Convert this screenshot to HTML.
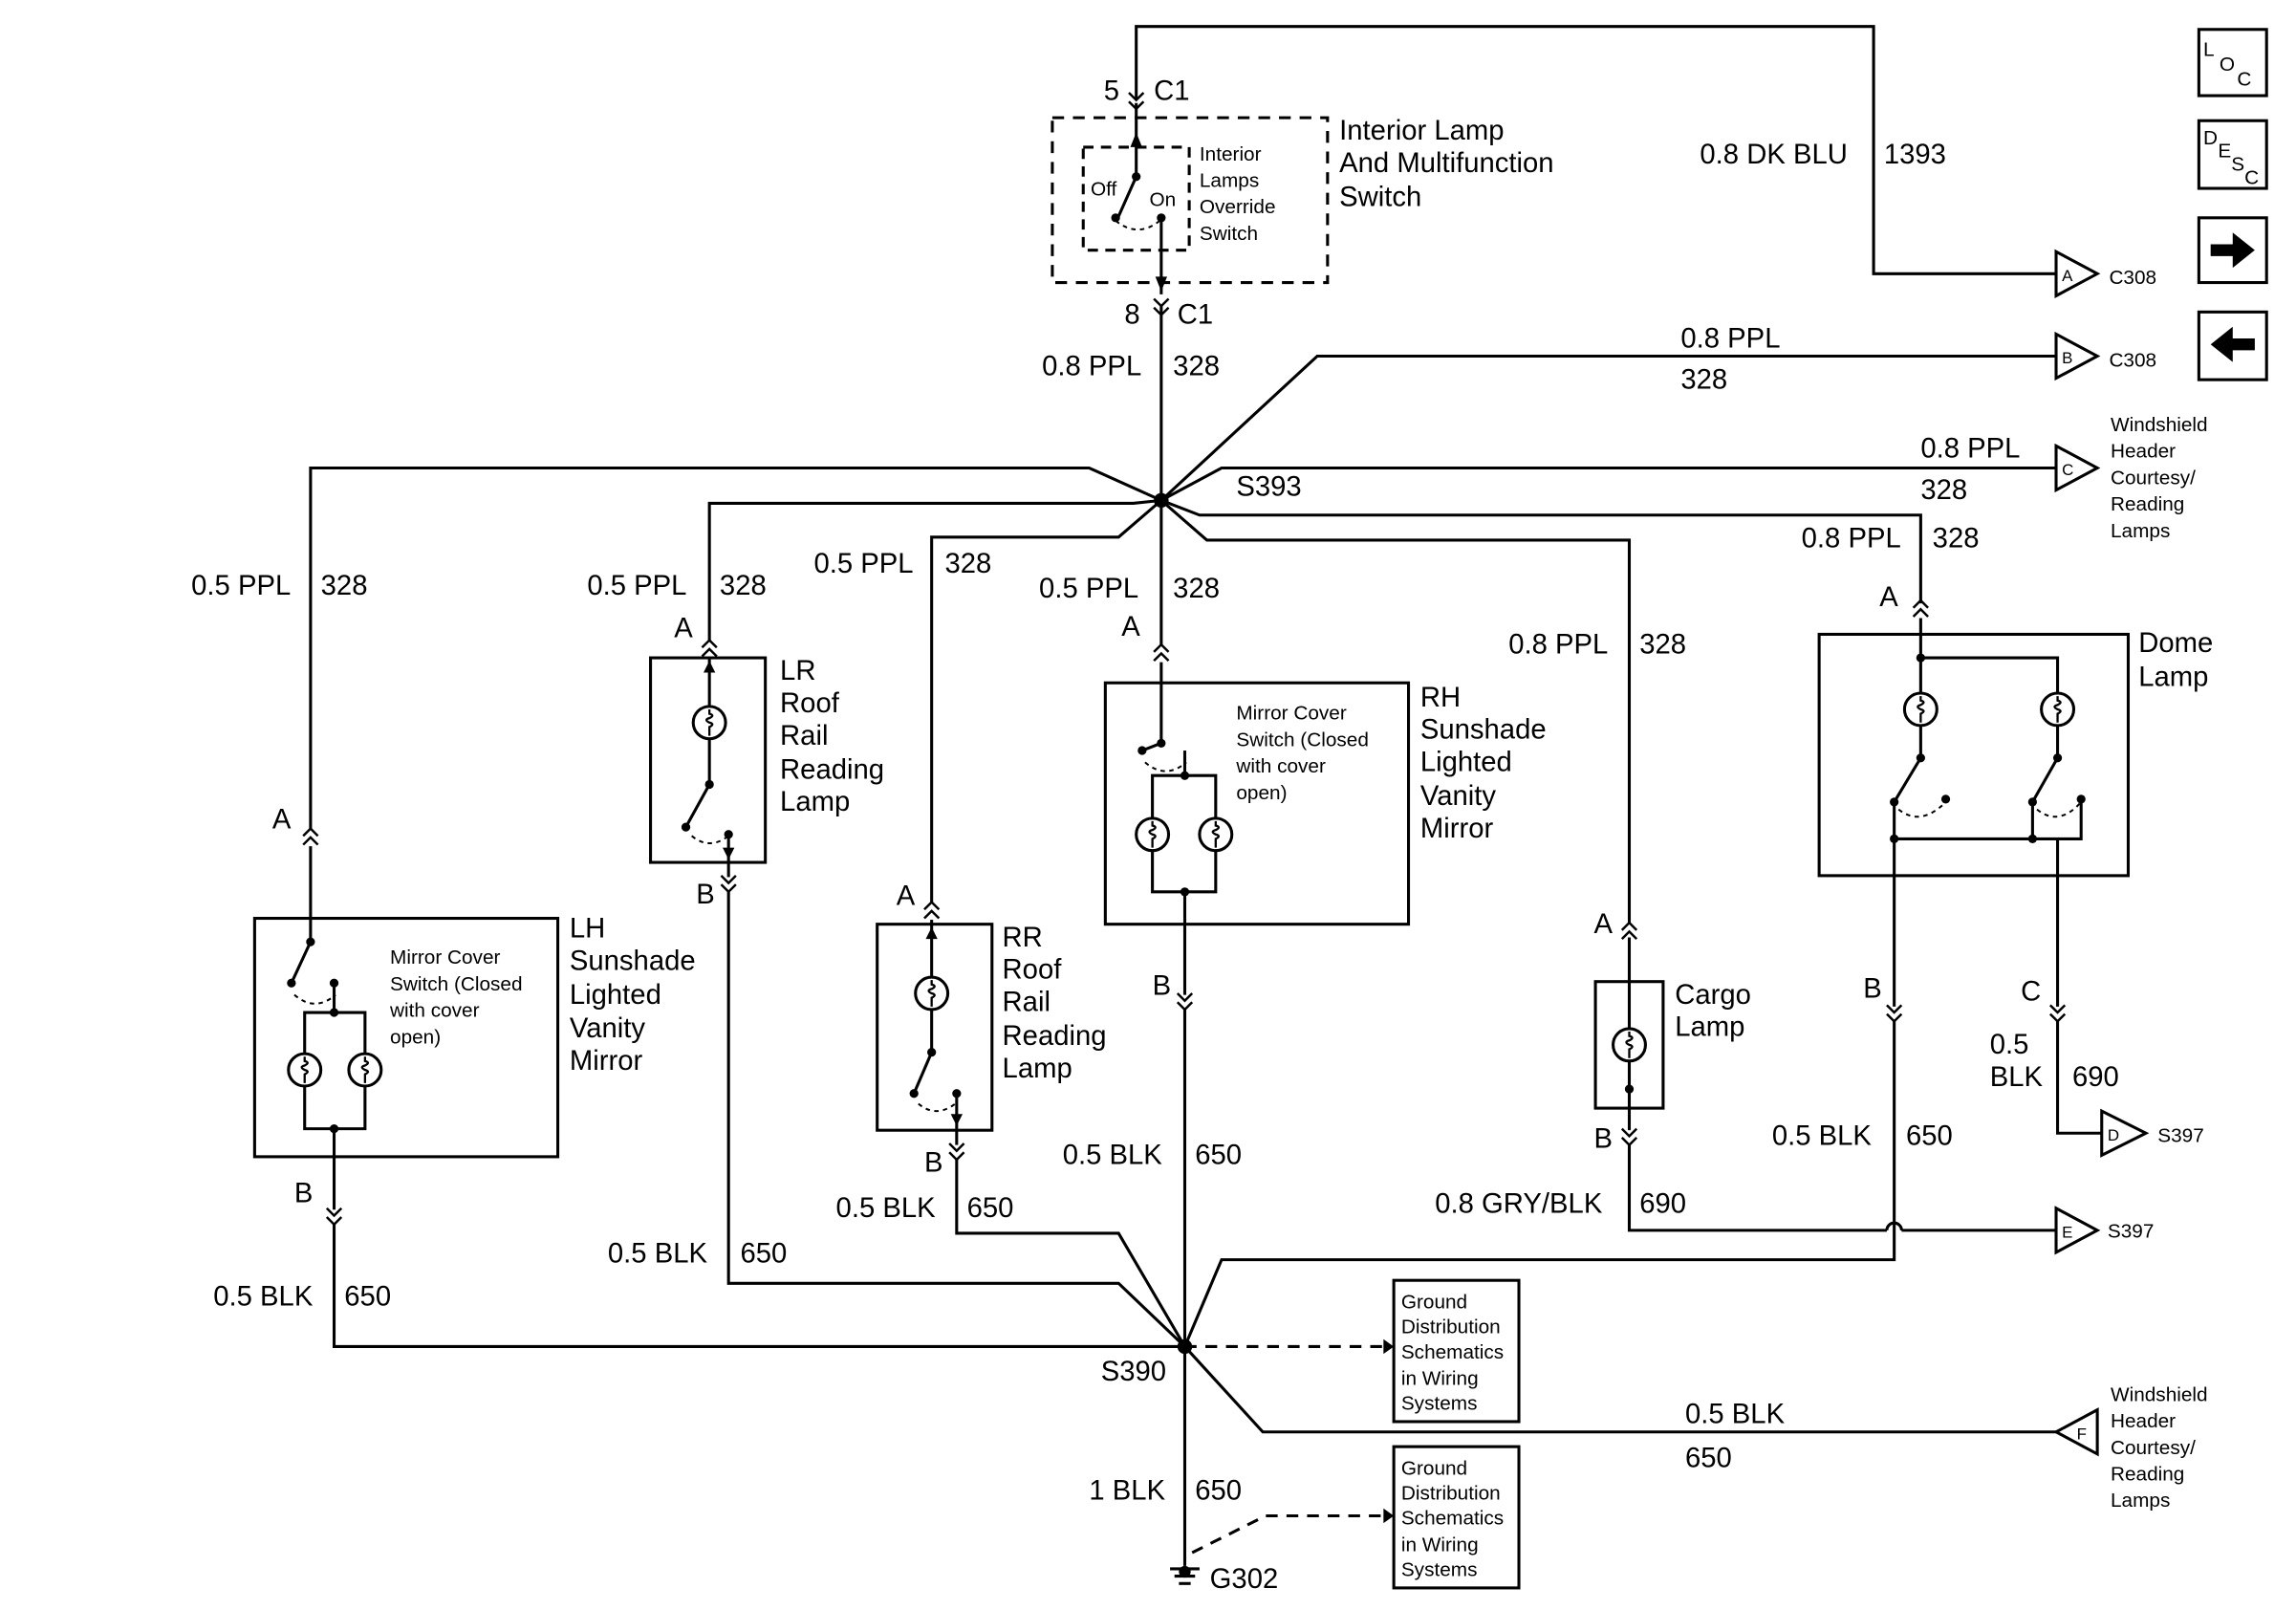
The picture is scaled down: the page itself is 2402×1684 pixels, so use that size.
<!DOCTYPE html>
<html><head><meta charset="utf-8"><style>
html,body{margin:0;padding:0;background:#fff;}
svg{display:block;}
text{font-family:"Liberation Sans",Arial,sans-serif;fill:#000;}
.l{font-size:19px;}
.s{font-size:13.5px;}
</style></head><body>
<svg width="2402" height="1684" viewBox="0 0 1560 1094" preserveAspectRatio="none" xmlns="http://www.w3.org/2000/svg">
<defs>
<g id="bulb"><circle cx="0" cy="0" r="11" fill="#fff" stroke="#000" stroke-width="2"/><path d="M0,-9 L0,-6 q4,1 0,3 q-4,1 0,3 q4,1 0,3 L0,9" fill="none" stroke="#000" stroke-width="1.5"/></g>
<g id="chu"><polyline points="-5,5 0,0 5,5" fill="none" stroke="#000" stroke-width="1.6"/><polyline points="-5,11 0,6 5,11" fill="none" stroke="#000" stroke-width="1.6"/></g>
<g id="chd"><polyline points="-5,-5 0,0 5,-5" fill="none" stroke="#000" stroke-width="1.6"/><polyline points="-5,-11 0,-6 5,-11" fill="none" stroke="#000" stroke-width="1.6"/></g>
</defs>
<g fill="none" stroke="#000" stroke-width="2">
<!-- top 1393 wire -->
<polyline points="772,68 772,18 1273,18 1273,186 1397,186"/>
<!-- interior switch -->
<rect x="715" y="80" width="187" height="112" stroke-dasharray="8,6"/>
<rect x="736" y="100" width="72" height="70" stroke-dasharray="7,5"/>
<line x1="772" y1="70" x2="772" y2="120"/>
<line x1="772" y1="120" x2="760" y2="147"/>
<path d="M758,150 q15,12 30,0" stroke-dasharray="3,3" stroke-width="1.3"/>
<line x1="789" y1="148" x2="789" y2="200"/>
<line x1="789" y1="208" x2="789" y2="340"/>
<!-- from S393 -->
<polyline points="789,340 895,242 1397,242"/>
<polyline points="789,340 830,318 1397,318"/>
<polyline points="789,340 815,350 1305,350 1305,410"/>
<polyline points="789,340 820,367 1107,367 1107,627"/>
<polyline points="789,340 740,318 211,318 211,563"/>
<polyline points="789,340 770,342 482,342 482,435"/>
<polyline points="789,340 760,365 633,365 633,613"/>
<line x1="789" y1="340" x2="789" y2="438"/>
<!-- boxes -->
<rect x="442" y="447" width="78" height="139"/>
<rect x="751" y="464" width="206" height="164"/>
<rect x="173" y="624" width="206" height="162"/>
<rect x="596" y="628" width="78" height="140"/>
<rect x="1084" y="667" width="46" height="86"/>
<rect x="1236" y="431" width="210" height="164"/>
<!-- LH internals -->
<line x1="211" y1="575" x2="211" y2="640"/>
<line x1="211" y1="640" x2="198" y2="668"/>
<path d="M200,676 q14,12 28,0" stroke-dasharray="3,3" stroke-width="1.3"/>
<polyline points="227,668 227,688"/>
<polyline points="207,716 207,688 248,688 248,716"/>
<polyline points="207,738 207,767 248,767 248,738"/>
<line x1="227" y1="767" x2="227" y2="822"/>
<polyline points="227,832 227,915 805,915"/>
<!-- LR internals -->
<line x1="482" y1="447" x2="482" y2="480"/>
<line x1="482" y1="502" x2="482" y2="533"/>
<line x1="482" y1="533" x2="466" y2="562"/>
<path d="M470,568 q12,10 25,0" stroke-dasharray="3,3" stroke-width="1.3"/>
<line x1="495" y1="567" x2="495" y2="596"/>
<polyline points="495,606 495,872 760,872 805,915"/>
<!-- RR internals -->
<line x1="633" y1="625" x2="633" y2="664"/>
<line x1="633" y1="686" x2="633" y2="715"/>
<line x1="633" y1="715" x2="621" y2="743"/>
<path d="M624,750 q12,10 25,0" stroke-dasharray="3,3" stroke-width="1.3"/>
<line x1="650" y1="743" x2="650" y2="778"/>
<polyline points="650,788 650,838 760,838 805,915"/>
<!-- RH internals -->
<line x1="789" y1="450" x2="789" y2="505"/>
<line x1="789" y1="505" x2="776" y2="510"/>
<path d="M778,518 q14,12 28,0" stroke-dasharray="3,3" stroke-width="1.3"/>
<line x1="805" y1="510" x2="805" y2="527"/>
<polyline points="783,556 783,527 826,527 826,556"/>
<polyline points="783,578 783,606 826,606 826,578"/>
<line x1="805" y1="606" x2="805" y2="676"/>
<line x1="805" y1="686" x2="805" y2="1064"/>
<!-- Cargo -->
<line x1="1107" y1="637" x2="1107" y2="699"/>
<line x1="1107" y1="721" x2="1107" y2="768"/>
<polyline points="1107,778 1107,836 1282,836"/>
<path d="M1282,836 a5,5 0 0 1 10,0"/>
<line x1="1292" y1="836" x2="1397" y2="836"/>
<!-- Dome -->
<line x1="1305" y1="420" x2="1305" y2="471"/>
<polyline points="1305,447 1398,447 1398,471"/>
<line x1="1305" y1="493" x2="1305" y2="515"/>
<line x1="1398" y1="493" x2="1398" y2="515"/>
<line x1="1305" y1="515" x2="1287" y2="545"/>
<line x1="1398" y1="515" x2="1381" y2="545"/>
<path d="M1290,550 q15,12 32,-5" stroke-dasharray="3,3" stroke-width="1.3"/>
<path d="M1384,550 q15,12 30,-5" stroke-dasharray="3,3" stroke-width="1.3"/>
<polyline points="1287,545 1287,570 1414,570 1414,543"/>
<line x1="1381" y1="545" x2="1381" y2="570"/>
<line x1="1287" y1="570" x2="1287" y2="684"/>
<polyline points="1287,694 1287,856 830,856 805,915"/>
<line x1="1398" y1="570" x2="1398" y2="684"/>
<polyline points="1398,694 1398,770 1428,770"/>
<!-- F line -->
<polyline points="805,915 858,973 1397,973"/>
<!-- dashed to ground boxes -->
<line x1="805" y1="915" x2="940" y2="915" stroke-dasharray="8,6"/>
<polyline points="810,1055 860,1030 940,1030" stroke-dasharray="8,6"/>
<rect x="947" y="870" width="85" height="96"/>
<rect x="947" y="983" width="85" height="96"/>
<!-- ground -->
<line x1="795" y1="1066" x2="815" y2="1066"/>
<line x1="798" y1="1071" x2="812" y2="1071"/>
<line x1="801" y1="1076" x2="809" y2="1076"/>
<!-- connector triangles -->
<polygon points="1397,171 1425,186 1397,201" fill="#fff"/>
<polygon points="1397,227 1425,242 1397,257" fill="#fff"/>
<polygon points="1397,303 1425,318 1397,333" fill="#fff"/>
<polygon points="1428,755 1458,770 1428,785" fill="#fff"/>
<polygon points="1397,821 1425,836 1397,851" fill="#fff"/>
<polygon points="1425,958 1397,973 1425,988" fill="#fff"/>
<!-- icon boxes -->
<rect x="1494" y="20" width="46" height="45"/>
<rect x="1494" y="82" width="46" height="46"/>
<rect x="1494" y="148" width="46" height="44"/>
<rect x="1494" y="212" width="46" height="46"/>
</g>
<!-- arrow icons -->
<polygon points="1502,166 1517,166 1517,158 1532,170 1517,182 1517,174 1502,174" fill="#000"/>
<polygon points="1532,230 1517,230 1517,222 1502,234 1517,246 1517,238 1532,238" fill="#000"/>
<!-- arrowheads inside boxes -->
<polygon points="940,910 940,920 947,915" fill="#000"/>
<polygon points="940,1025 940,1035 947,1030" fill="#000"/>
<polygon points="768,100 776,100 772,90" fill="#000"/>
<polygon points="785,188 793,188 789,198" fill="#000"/>
<polygon points="478,457 486,457 482,449" fill="#000"/>
<polygon points="491,576 499,576 495,584" fill="#000"/>
<polygon points="629,638 637,638 633,630" fill="#000"/>
<polygon points="646,757 654,757 650,765" fill="#000"/>
<!-- nodes / dots -->
<g fill="#000">
<circle cx="789" cy="340" r="5"/><circle cx="805" cy="915" r="5"/>
<circle cx="211" cy="640" r="3"/><circle cx="198" cy="668" r="3"/><circle cx="227" cy="668" r="3"/><circle cx="227" cy="688" r="3"/><circle cx="227" cy="767" r="3"/>
<circle cx="482" cy="533" r="3"/><circle cx="466" cy="562" r="3"/><circle cx="495" cy="567" r="3"/>
<circle cx="633" cy="715" r="3"/><circle cx="621" cy="743" r="3"/><circle cx="650" cy="743" r="3"/>
<circle cx="789" cy="505" r="3"/><circle cx="776" cy="510" r="3"/><circle cx="805" cy="527" r="3"/><circle cx="805" cy="606" r="3"/>
<circle cx="772" cy="120" r="3"/><circle cx="758" cy="148" r="3"/><circle cx="789" cy="148" r="3"/>
<circle cx="1305" cy="447" r="3"/><circle cx="1305" cy="515" r="3"/><circle cx="1398" cy="515" r="3"/>
<circle cx="1287" cy="545" r="3"/><circle cx="1381" cy="545" r="3"/><circle cx="1322" cy="543" r="3"/><circle cx="1414" cy="543" r="3"/>
<circle cx="1287" cy="570" r="3"/><circle cx="1381" cy="570" r="3"/><circle cx="1107" cy="740" r="3"/>
<circle cx="805" cy="1068" r="4"/>
</g>
<!-- bulbs -->
<use href="#bulb" x="207" y="727"/><use href="#bulb" x="248" y="727"/>
<use href="#bulb" x="482" y="491"/><use href="#bulb" x="633" y="675"/>
<use href="#bulb" x="783" y="567"/><use href="#bulb" x="826" y="567"/>
<use href="#bulb" x="1107" y="710"/>
<use href="#bulb" x="1305" y="482"/><use href="#bulb" x="1398" y="482"/>
<!-- chevrons -->
<use href="#chd" x="772" y="74"/>
<use href="#chd" x="789" y="214"/>
<use href="#chu" x="211" y="563"/><use href="#chd" x="227" y="832"/>
<use href="#chu" x="482" y="435"/><use href="#chd" x="495" y="606"/>
<use href="#chu" x="633" y="613"/><use href="#chd" x="650" y="788"/>
<use href="#chu" x="789" y="438"/><use href="#chd" x="805" y="686"/>
<use href="#chu" x="1107" y="627"/><use href="#chd" x="1107" y="778"/>
<use href="#chu" x="1305" y="408"/><use href="#chd" x="1287" y="694"/><use href="#chd" x="1398" y="694"/>
<!-- wire separators -->
<g stroke="#000" stroke-width="1.5">
<line x1="1273" y1="90" x2="1273" y2="115"/>
</g>
<!-- labels -->
<g class="l">
<text x="750" y="68">5</text><text x="784" y="68">C1</text>
<text x="764" y="220">8</text><text x="800" y="220">C1</text>
<text x="910" y="95">Interior Lamp</text><text x="910" y="117">And Multifunction</text><text x="910" y="140">Switch</text>
<text x="1155" y="111">0.8 DK BLU</text><text x="1280" y="111">1393</text>
<text x="708" y="255">0.8 PPL</text><text x="797" y="255">328</text>
<text x="1142" y="236">0.8 PPL</text><text x="1142" y="264">328</text>
<text x="840" y="337">S393</text>
<text x="1305" y="311">0.8 PPL</text><text x="1305" y="339">328</text>
<text x="1224" y="372">0.8 PPL</text><text x="1313" y="372">328</text>
<text x="130" y="404">0.5 PPL</text><text x="218" y="404">328</text>
<text x="399" y="404">0.5 PPL</text><text x="489" y="404">328</text>
<text x="553" y="389">0.5 PPL</text><text x="642" y="389">328</text>
<text x="706" y="406">0.5 PPL</text><text x="797" y="406">328</text>
<text x="1025" y="444">0.8 PPL</text><text x="1114" y="444">328</text>
<text x="458" y="433">A</text><text x="762" y="432">A</text><text x="1277" y="412">A</text>
<text x="185" y="563">A</text><text x="609" y="615">A</text><text x="1083" y="634">A</text>
<text x="530" y="462">LR</text><text x="530" y="484">Roof</text><text x="530" y="506">Rail</text><text x="530" y="529">Reading</text><text x="530" y="551">Lamp</text>
<text x="965" y="480">RH</text><text x="965" y="502">Sunshade</text><text x="965" y="524">Lighted</text><text x="965" y="547">Vanity</text><text x="965" y="569">Mirror</text>
<text x="387" y="637">LH</text><text x="387" y="659">Sunshade</text><text x="387" y="682">Lighted</text><text x="387" y="705">Vanity</text><text x="387" y="727">Mirror</text>
<text x="681" y="643">RR</text><text x="681" y="665">Roof</text><text x="681" y="687">Rail</text><text x="681" y="710">Reading</text><text x="681" y="732">Lamp</text>
<text x="1138" y="682">Cargo</text><text x="1138" y="704">Lamp</text>
<text x="1453" y="443">Dome</text><text x="1453" y="466">Lamp</text>
<text x="473" y="614">B</text><text x="783" y="676">B</text><text x="200" y="817">B</text><text x="628" y="796">B</text>
<text x="1083" y="780">B</text><text x="1266" y="678">B</text><text x="1373" y="680">C</text>
<text x="1352" y="716">0.5</text><text x="1352" y="738">BLK</text><text x="1408" y="738">690</text>
<text x="1204" y="778">0.5 BLK</text><text x="1295" y="778">650</text>
<text x="722" y="791">0.5 BLK</text><text x="812" y="791">650</text>
<text x="568" y="827">0.5 BLK</text><text x="657" y="827">650</text>
<text x="975" y="824">0.8 GRY/BLK</text><text x="1114" y="824">690</text>
<text x="413" y="858">0.5 BLK</text><text x="503" y="858">650</text>
<text x="145" y="887">0.5 BLK</text><text x="234" y="887">650</text>
<text x="748" y="938">S390</text>
<text x="1145" y="967">0.5 BLK</text><text x="1145" y="997">650</text>
<text x="740" y="1019">1 BLK</text><text x="812" y="1019">650</text>
<text x="822" y="1079">G302</text>
</g>
<g class="s">
<text x="815" y="109">Interior</text><text x="815" y="127">Lamps</text><text x="815" y="145">Override</text><text x="815" y="163">Switch</text>
<text x="741" y="133">Off</text><text x="781" y="140">On</text>
<text x="840" y="489">Mirror Cover</text><text x="840" y="507">Switch (Closed</text><text x="840" y="525">with cover</text><text x="840" y="543">open)</text>
<text x="265" y="655">Mirror Cover</text><text x="265" y="673">Switch (Closed</text><text x="265" y="691">with cover</text><text x="265" y="709">open)</text>
<text x="1433" y="193">C308</text><text x="1433" y="249">C308</text>
<text x="1466" y="776">S397</text><text x="1432" y="841">S397</text>
<text x="1434" y="293">Windshield</text><text x="1434" y="311">Header</text><text x="1434" y="329">Courtesy/</text><text x="1434" y="347">Reading</text><text x="1434" y="365">Lamps</text>
<text x="1434" y="952">Windshield</text><text x="1434" y="970">Header</text><text x="1434" y="988">Courtesy/</text><text x="1434" y="1006">Reading</text><text x="1434" y="1024">Lamps</text>
<text x="952" y="889">Ground</text><text x="952" y="906">Distribution</text><text x="952" y="923">Schematics</text><text x="952" y="941">in Wiring</text><text x="952" y="958">Systems</text>
<text x="952" y="1002">Ground</text><text x="952" y="1019">Distribution</text><text x="952" y="1036">Schematics</text><text x="952" y="1054">in Wiring</text><text x="952" y="1071">Systems</text>
<text x="1401" y="191" font-size="11">A</text><text x="1401" y="247" font-size="11">B</text><text x="1401" y="323" font-size="11">C</text>
<text x="1432" y="775" font-size="11">D</text><text x="1401" y="841" font-size="11">E</text><text x="1411" y="978" font-size="11">F</text>
<text x="1497" y="38">L</text><text x="1508" y="48">O</text><text x="1520" y="58">C</text>
<text x="1497" y="98">D</text><text x="1507" y="107">E</text><text x="1516" y="116">S</text><text x="1525" y="125">C</text>
</g>
</svg>
</body></html>
